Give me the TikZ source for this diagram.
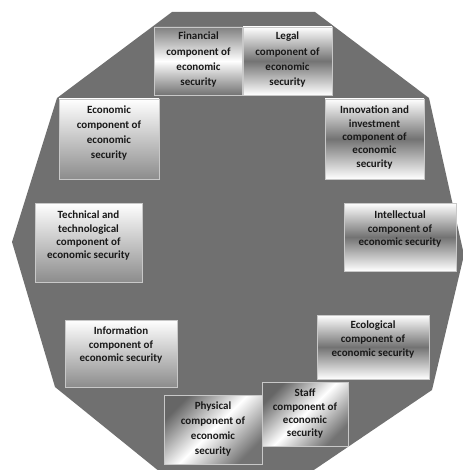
\documentclass[tikz,border=0pt]{standalone}
\usepackage{fontspec}
\setmainfont{Carlito}
\usetikzlibrary{shadows}
\definecolor{polyfill}{RGB}{112,112,112}
\definecolor{boxline}{RGB}{200,200,200}
\definecolor{txt}{RGB}{25,25,25}
\tikzset{
  compbox/.style={draw=boxline, line width=0.8pt, inner sep=0pt,
    drop shadow={shadow xshift=1.2pt, shadow yshift=-1.2pt, fill=black, opacity=0.35}},
  topdown/.style={top color=white, bottom color=black!45},
  band/.style={top color=white, bottom color=white, middle color=black!55},
  invband/.style={top color=black!50, bottom color=black!55, middle color=white},
  diag/.style={top color=black!60, bottom color=black!55, middle color=white, shading angle=45},
  comptext/.style={anchor=north, inner sep=0pt, align=center, text=txt,
    font=\fontsize{11}{14}\selectfont\bfseries},
}
\begin{document}
\begin{tikzpicture}[x=1pt,y=-1pt]
\useasboundingbox (0,0) rectangle (462,470);
\fill[polyfill] (172,12) -- (315,12) -- (429,98) -- (464,255) -- (432,390)
  -- (305,476) -- (165,476) -- (55,387) -- (12,242) -- (57,98) -- cycle;

% Financial
\node[compbox, invband, minimum width=88pt, minimum height=68pt] (fin) at (198.5,61) {};
\node[comptext, font=\fontsize{11}{15.3}\selectfont\bfseries] (fint) at (198.5,32) {Financial\\component of\\economic\\security};
% Legal
\node[compbox, band, minimum width=89pt, minimum height=68pt] (leg) at (287.5,61) {};
\node[comptext, font=\fontsize{11}{15.3}\selectfont\bfseries] (legt) at (287.5,32) {Legal\\component of\\economic\\security};
% Economic
\node[compbox, topdown, minimum width=100pt, minimum height=80pt] (eco) at (109,139) {};
\node[comptext, font=\fontsize{11}{15}\selectfont\bfseries] (ecot) at (109,106) {Economic\\component of\\economic\\security};
% Innovation
\node[compbox, band, minimum width=99pt, minimum height=80pt] (inn) at (374.5,139) {};
\node[comptext, font=\fontsize{11}{13.3}\selectfont\bfseries] (innt) at (374.5,106) {Innovation and\\investment\\component of\\economic\\security};
% Technical
\node[compbox, topdown, minimum width=107pt, minimum height=79pt] (tec) at (88.5,242.5) {};
\node[comptext, font=\fontsize{11}{13.2}\selectfont\bfseries] (tect) at (88.5,211) {Technical and\\technological\\component of\\economic security};
% Intellectual
\node[compbox, band, minimum width=112pt, minimum height=68pt] (int) at (400,237) {};
\node[comptext, font=\fontsize{11}{13.5}\selectfont\bfseries] (intt) at (400,211) {Intellectual\\component of\\economic security};
% Information
\node[compbox, topdown, minimum width=112pt, minimum height=67pt] (inf) at (121,353.5) {};
\node[comptext, font=\fontsize{11}{13.5}\selectfont\bfseries] (inft) at (121,327) {Information\\component of\\economic security};
% Ecological
\node[compbox, band, minimum width=112pt, minimum height=64pt] (ecl) at (373,347) {};
\node[comptext, font=\fontsize{11}{14}\selectfont\bfseries] (eclt) at (373,321) {Ecological\\component of\\economic security};
% Staff
\node[compbox, diag, minimum width=86pt, minimum height=64pt] (sta) at (305,414) {};
\node[comptext, font=\fontsize{11}{13.2}\selectfont\bfseries] (stat) at (305,389) {Staff\\component of\\economic\\security};
% Physical
\node[compbox, diag, minimum width=98pt, minimum height=69pt] (phy) at (213,429.5) {};
\node[comptext, font=\fontsize{11}{14.7}\selectfont\bfseries] (phyt) at (213,402) {Physical\\component of\\economic\\security};
\end{tikzpicture}
\end{document}
